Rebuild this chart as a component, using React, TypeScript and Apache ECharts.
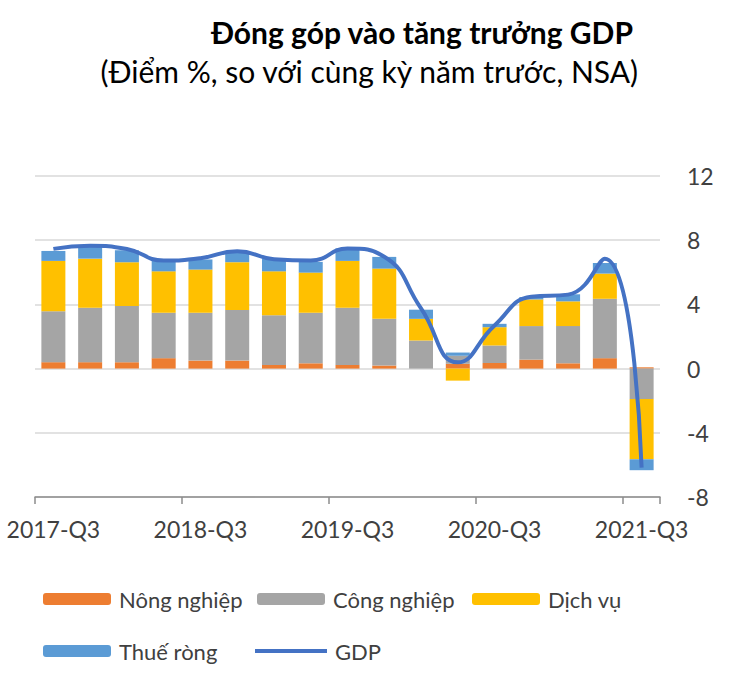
import React, { useEffect, useRef } from "react";
import * as echarts from "echarts";

const categories = [
  "2017-Q3", "2017-Q4", "2018-Q1", "2018-Q2", "2018-Q3", "2018-Q4",
  "2019-Q1", "2019-Q2", "2019-Q3", "2019-Q4", "2020-Q1", "2020-Q2",
  "2020-Q3", "2020-Q4", "2021-Q1", "2021-Q2", "2021-Q3",
];
const nongNghiep = [0.4, 0.4, 0.4, 0.65, 0.5, 0.5, 0.23, 0.33, 0.23, 0.19, 0.0, 0.3, 0.35, 0.56, 0.33, 0.65, 0.08];
const congNghiep = [3.18, 3.39, 3.5, 2.83, 2.98, 3.15, 3.1, 3.15, 3.56, 2.91, 1.75, 0.5, 1.09, 2.09, 2.32, 3.7, -1.9];
const dichVu = [3.13, 3.06, 2.73, 2.58, 2.69, 2.98, 2.73, 2.5, 2.92, 3.13, 1.35, -0.75, 1.14, 1.66, 1.54, 1.57, -3.75];
const thueRong = [0.62, 0.73, 0.75, 0.73, 0.63, 0.7, 0.79, 0.67, 0.77, 0.73, 0.57, 0.2, 0.21, 0.15, 0.44, 0.66, -0.68];
const gdp = [7.46, 7.65, 7.45, 6.73, 6.88, 7.31, 6.82, 6.73, 7.48, 6.97, 3.75, 0.39, 2.69, 4.48, 4.61, 6.85, -6.17];
const yTicks = { min: -8, max: 12, interval: 4 };

const TITLE = "Đóng góp vào tăng trưởng GDP";
const SUBTITLE = "(Điểm %, so với cùng kỳ năm trước, NSA)";

const FONT = "Lato, 'Noto Sans', sans-serif";
const TEXT_COLOR = "#404040";

export default function App() {
  const ref = useRef<HTMLDivElement>(null);
  useEffect(() => {
    if (!ref.current) return;
    const chart = echarts.init(ref.current, undefined, { renderer: "svg" });
    const legendText = { fontFamily: FONT, fontSize: 22, color: TEXT_COLOR, padding: [0, 0, 0, 3] };
    const mkLegend = (name: string, left: number, top: number, extra: any = {}) => ({
      show: true,
      data: [name],
      left,
      top,
      padding: 0,
      itemWidth: 68,
      itemHeight: 12,
      textStyle: legendText,
      selectedMode: false,
      ...extra,
    });
    chart.setOption({
      animation: false,
      backgroundColor: "#ffffff",
      graphic: [
        {
          type: "text",
          x: 633,
          y: 32,
          style: {
            text: TITLE,
            font: `bold 30px ${FONT}`,
            fill: "#000",
            textAlign: "right",
            textVerticalAlign: "middle",
          },
        },
        {
          type: "text",
          x: 638,
          y: 71,
          style: {
            text: SUBTITLE,
            font: `30px ${FONT}`,
            fill: "#000",
            textAlign: "right",
            textVerticalAlign: "middle",
          },
        },
      ],
      legend: [
        mkLegend("Nông nghiệp", 43, 588),
        mkLegend("Công nghiệp", 257, 588),
        mkLegend("Dịch vụ", 472, 588),
        mkLegend("Thuế ròng", 43, 640),
        mkLegend("GDP", 255, 640, { icon: "rect", itemHeight: 4, itemWidth: 72 }),
      ],
      grid: { left: 35, right: 90, top: 176, bottom: 189, containLabel: false },
      xAxis: {
        type: "category",
        data: categories,
        boundaryGap: true,
        axisLine: { onZero: false, lineStyle: { color: "#8c8c8c", width: 1.5 } },
        axisTick: { show: true, interval: 3, length: 7, lineStyle: { color: "#8c8c8c", width: 1.5 } },
        axisLabel: { interval: 3, margin: 20, fontFamily: FONT, fontSize: 23, color: TEXT_COLOR },
        splitLine: { show: false },
      },
      yAxis: {
        type: "value",
        position: "right",
        min: yTicks.min,
        max: yTicks.max,
        interval: yTicks.interval,
        axisLine: { show: false },
        axisTick: { show: false },
        axisLabel: { margin: 27, fontFamily: FONT, fontSize: 23, color: TEXT_COLOR },
        splitLine: { lineStyle: { color: "#d9d9d9", width: 1.5 } },
      },
      series: [
        { name: "Nông nghiệp", type: "bar", stack: "total", data: nongNghiep, barWidth: 24, itemStyle: { color: "#ED7D31" } },
        { name: "Công nghiệp", type: "bar", stack: "total", data: congNghiep, barWidth: 24, itemStyle: { color: "#A5A5A5" } },
        { name: "Dịch vụ", type: "bar", stack: "total", data: dichVu, barWidth: 24, itemStyle: { color: "#FFC000" } },
        { name: "Thuế ròng", type: "bar", stack: "total", data: thueRong, barWidth: 24, itemStyle: { color: "#5B9BD5" } },
        {
          name: "GDP",
          type: "line",
          data: gdp,
          smooth: 0.5,
          showSymbol: false,
          symbol: "none",
          lineStyle: { color: "#4472C4", width: 4 },
          itemStyle: { color: "#4472C4" },
          z: 5,
        },
      ],
    });
    return () => chart.dispose();
  }, []);
  return (
    <div
      ref={ref}
      style={{ position: "absolute", left: 0, top: 0, width: 750, height: 686, background: "#fff" }}
    />
  );
}
